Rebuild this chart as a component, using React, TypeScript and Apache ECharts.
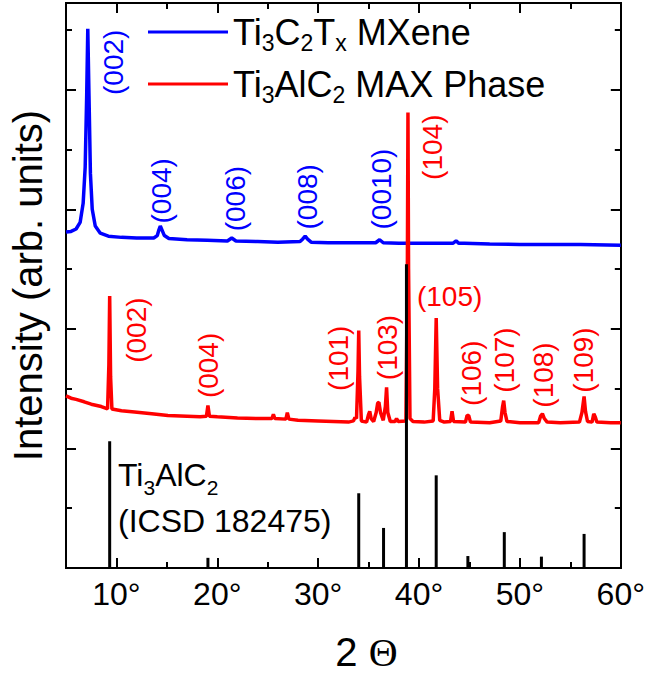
import React, { useEffect, useRef } from "react";
import * as echarts from "echarts";

// ---------- data ----------
const xMin = 5;
const xMax = 60;
const yMin = 0;
const yMax = 9.45;
const xMajorTicks = [10, 20, 30, 40, 50, 60];
const xMinorTicks = [15, 25, 35, 45, 55];
const yMajorTicks = [0, 2, 4, 6, 8];
const yMinorTicks = [1, 3, 5, 7, 9];

const mxeneName = "Ti3C2Tx MXene";
const maxName = "Ti3AlC2 MAX Phase";

// [2theta, intensity (arb.)]
const mxenePattern: [number, number][] = [
  [5.0, 5.62], [5.5, 5.63], [6.0, 5.67], [6.4, 5.78], [6.7, 6.1], [6.9, 6.7], [7.05, 7.9], [7.16, 9.02],
  [7.28, 7.9], [7.42, 6.6], [7.6, 6.0], [7.9, 5.72], [8.4, 5.6], [9.2, 5.55], [10.5, 5.53], [12.0, 5.52],
  [13.7, 5.52], [14.05, 5.56], [14.22, 5.66], [14.35, 5.72], [14.5, 5.66], [14.75, 5.56], [15.2, 5.51],
  [17.0, 5.49], [19.0, 5.48], [21.0, 5.47], [21.43, 5.52], [21.85, 5.47], [24.0, 5.46], [26.0, 5.45],
  [28.2, 5.46], [28.45, 5.5], [28.71, 5.55], [28.95, 5.5], [29.3, 5.45], [31.0, 5.44], [33.0, 5.44],
  [35.7, 5.44], [36.09, 5.49], [36.45, 5.44], [38.0, 5.43], [41.0, 5.43], [43.35, 5.43], [43.67, 5.47],
  [43.95, 5.43], [44.5, 5.43], [47.0, 5.42], [50.0, 5.41], [53.0, 5.41], [56.0, 5.41], [60.0, 5.4],
];

const maxPattern: [number, number][] = [
  [5.0, 2.88], [5.5, 2.84], [6.0, 2.82], [6.8, 2.78], [7.5, 2.74], [8.5, 2.7], [9.12, 2.66], [9.25, 3.4],
  [9.33, 4.55], [9.42, 3.2], [9.55, 2.66], [10.5, 2.63], [11.8, 2.61], [13.5, 2.58], [15.1, 2.55],
  [17.0, 2.54], [18.3, 2.53], [18.92, 2.54], [19.07, 2.72], [19.22, 2.54], [20.0, 2.53], [22.0, 2.51],
  [24.0, 2.5], [25.42, 2.5], [25.56, 2.57], [25.7, 2.5], [26.8, 2.49], [26.94, 2.6], [27.1, 2.49],
  [28.0, 2.47], [30.0, 2.46], [31.5, 2.45], [33.0, 2.44], [33.5, 2.46], [33.65, 2.52], [33.8, 2.5],
  [33.95, 3.3], [34.02, 3.97], [34.1, 3.2], [34.28, 2.46], [34.8, 2.44], [34.98, 2.56], [35.11, 2.62],
  [35.25, 2.5], [35.5, 2.45], [35.75, 2.6], [35.9, 2.76], [36.02, 2.77], [36.18, 2.6], [36.45, 2.47],
  [36.66, 2.7], [36.78, 3.02], [36.9, 2.6], [37.15, 2.45], [37.62, 2.45], [37.77, 2.5], [37.92, 2.45],
  [38.7, 2.46], [38.84, 5.0], [38.9, 7.62], [38.96, 5.0], [39.1, 2.5], [39.4, 2.45], [40.5, 2.44],
  [41.4, 2.46], [41.56, 3.0], [41.7, 4.18], [41.84, 3.0], [42.05, 2.47], [42.5, 2.44], [43.12, 2.45],
  [43.27, 2.62], [43.42, 2.45], [44.6, 2.44], [44.76, 2.55], [44.92, 2.55], [45.1, 2.44], [47.0, 2.43],
  [48.1, 2.46], [48.28, 2.7], [48.39, 2.8], [48.52, 2.6], [48.72, 2.45], [50.0, 2.43], [51.85, 2.43],
  [52.05, 2.54], [52.23, 2.58], [52.42, 2.5], [52.7, 2.44], [54.0, 2.43], [55.9, 2.44], [56.15, 2.6],
  [56.36, 2.87], [56.5, 2.62], [56.7, 2.45], [57.15, 2.44], [57.32, 2.58], [57.48, 2.52], [57.62, 2.44],
  [59.0, 2.43], [60.0, 2.43],
];

// reference pattern sticks [2theta, height]
const icsdSticks: [number, number][] = [
  [9.33, 2.12], [19.07, 0.17], [34.02, 1.25], [36.48, 0.67], [38.75, 5.08], [41.7, 1.55],
  [44.84, 0.2], [48.45, 0.6], [52.13, 0.19], [56.36, 0.57],
];

// peak index annotations [2theta, intensity, text, rotation]
const mxeneLabels: [number, number, string, number][] = [
  [9.72, 8.45, "(002)", 90],
  [14.54, 6.3, "(004)", 90],
  [21.82, 6.17, "(006)", 90],
  [29.0, 6.2, "(008)", 90],
  [36.29, 6.33, "(0010)", 90],
];
const maxLabels: [number, number, string, number][] = [
  [12.08, 3.97, "(002)", 90],
  [19.17, 3.38, "(004)", 90],
  [32.06, 3.5, "(101)", 90],
  [36.88, 3.68, "(103)", 90],
  [41.4, 7.03, "(104)", 90],
  [43.08, 4.53, "(105)", 0],
  [45.24, 3.25, "(106)", 90],
  [48.49, 3.47, "(107)", 90],
  [52.42, 3.22, "(108)", 90],
  [56.36, 3.47, "(109)", 90],
];

const xAxisTitle = "2 {th|Θ}";
const yAxisTitle = "Intensity (arb. units)";
const refText = "Ti{s|3}AlC{s|2}\n(ICSD 182475)";

// ---------- styles ----------
const FONT = "'Liberation Sans', Arial, Helvetica, sans-serif";
const BLUE = "#0000ff";
const RED = "#ff0000";
const BLACK = "#000000";

const legendRich = {
  s: { fontSize: 23, lineHeight: 16, verticalAlign: "bottom", fontFamily: FONT, color: BLACK },
};

function xAxisDef(position: string, ticks: number[], len: number, labels: boolean) {
  return {
    type: "value",
    position,
    min: xMin,
    max: xMax,
    axisLine: { show: true, onZero: false, lineStyle: { color: BLACK, width: 2 } },
    axisTick: { show: true, inside: true, length: len, customValues: ticks, lineStyle: { color: BLACK, width: 2 } },
    axisLabel: labels
      ? {
          show: true,
          customValues: ticks,
          formatter: (v: number) => `${v}°`,
          fontSize: 32,
          color: BLACK,
          fontFamily: FONT,
          margin: 10,
        }
      : { show: false },
    splitLine: { show: false },
  };
}

function yAxisDef(position: string, ticks: number[], len: number) {
  return {
    type: "value",
    position,
    min: yMin,
    max: yMax,
    axisLine: { show: true, onZero: false, lineStyle: { color: BLACK, width: 2 } },
    axisTick: { show: true, inside: true, length: len, customValues: ticks, lineStyle: { color: BLACK, width: 2 } },
    axisLabel: { show: false },
    splitLine: { show: false },
  };
}

function labelSeries(id: string, items: [number, number, string, number][], color: string) {
  return {
    type: "scatter",
    id,
    name: id,
    z: 6,
    silent: true,
    symbolSize: 1,
    itemStyle: { color: "rgba(0,0,0,0)", opacity: 1 },
    data: items.map(([x, y, t, r]) => ({
      value: [x, y],
      name: t,
      label: { rotate: r },
    })),
    label: {
      show: true,
      position: [0, 0],
      formatter: "{b}",
      color,
      opacity: 1,
      textBorderWidth: 0,
      fontSize: 28,
      fontFamily: FONT,
      align: "center",
      verticalAlign: "middle",
    },
  };
}

export default function App() {
  const ref = useRef<HTMLDivElement>(null);

  useEffect(() => {
    if (!ref.current) return;
    const chart = echarts.init(ref.current, null, { renderer: "svg" });
    const option: any = {
      animation: false,
      backgroundColor: "#ffffff",
      textStyle: { fontFamily: FONT },
      grid: { left: 64, right: 25, top: 3, bottom: 107, containLabel: false },
      legend: {
        show: true,
        orient: "vertical",
        left: 148,
        top: 10,
        padding: 0,
        itemGap: 8,
        itemWidth: 80,
        itemHeight: 3,
        icon: "rect",
        data: [mxeneName, maxName],
        formatter: (name: string) =>
          name === mxeneName ? "Ti{s|3}C{s|2}T{s|x} MXene" : "Ti{s|3}AlC{s|2} MAX Phase",
        textStyle: {
          fontSize: 36,
          lineHeight: 44,
          color: BLACK,
          fontFamily: FONT,
          rich: legendRich,
        },
      },
      xAxis: [
        {
          ...xAxisDef("bottom", xMajorTicks, 10, true),
          name: xAxisTitle,
          nameLocation: "middle",
          nameGap: 64,
          nameTextStyle: {
            fontSize: 40,
            color: BLACK,
            fontFamily: FONT,
            padding: [0, 0, 0, 46],
            rich: { th: { fontSize: 40, fontFamily: "'Liberation Serif', 'DejaVu Serif', serif", color: BLACK } },
          },
        },
        xAxisDef("bottom", xMinorTicks, 6, false),
        xAxisDef("top", xMajorTicks, 10, false),
        xAxisDef("top", xMinorTicks, 6, false),
      ],
      yAxis: [
        {
          ...yAxisDef("left", yMajorTicks, 10),
          name: yAxisTitle,
          nameLocation: "middle",
          nameGap: 18,
          nameTextStyle: { fontSize: 40, color: BLACK, fontFamily: FONT },
        },
        yAxisDef("left", yMinorTicks, 6),
        yAxisDef("right", yMajorTicks, 10),
        yAxisDef("right", yMinorTicks, 6),
      ],
      graphic: [
        {
          type: "text",
          left: 118,
          top: 452,
          z: 10,
          style: {
            text: refText,
            fontSize: 32,
            lineHeight: 46,
            fill: BLACK,
            fontFamily: FONT,
            rich: {
              s: { fontSize: 21, lineHeight: 16, verticalAlign: "bottom", fill: BLACK, fontFamily: FONT },
            },
          },
        },
      ],
      series: [
        {
          type: "line",
          name: mxeneName,
          data: mxenePattern,
          showSymbol: false,
          symbol: "none",
          color: BLUE,
          lineStyle: { color: BLUE, width: 3.5 },
          z: 2,
          silent: true,
        },
        {
          type: "line",
          name: maxName,
          data: maxPattern,
          showSymbol: false,
          symbol: "none",
          color: RED,
          lineStyle: { color: RED, width: 3.5 },
          z: 2,
          silent: true,
        },
        {
          type: "custom",
          name: "Ti3AlC2 (ICSD 182475)",
          data: icsdSticks,
          encode: { x: 0, y: 1 },
          z: 4,
          silent: true,
          renderItem: (_params: any, api: any) => {
            const x = api.value(0);
            const h = api.value(1);
            const p0 = api.coord([x, 0]);
            const p1 = api.coord([x, h]);
            return {
              type: "line",
              shape: { x1: p0[0], y1: p0[1], x2: p1[0], y2: p1[1] },
              style: { stroke: BLACK, lineWidth: 3 },
            };
          },
        },
        labelSeries("mxene-peak-labels", mxeneLabels, BLUE),
        labelSeries("max-peak-labels", maxLabels, RED),
      ],
    };
    chart.setOption(option);
    return () => {
      chart.dispose();
    };
  }, []);

  return (
    <div
      ref={ref}
      style={{ position: "fixed", left: 0, top: 0, width: 648, height: 677, background: "#fff" }}
    />
  );
}
